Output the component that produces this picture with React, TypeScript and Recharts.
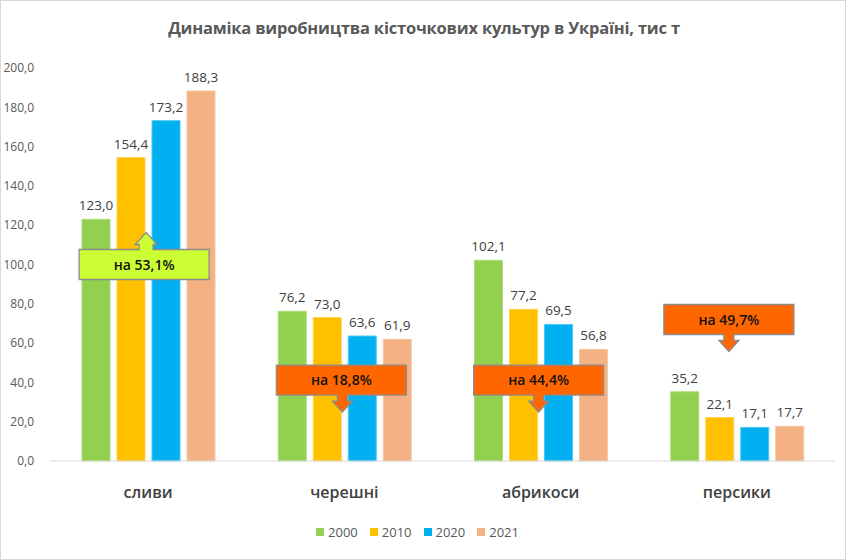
import React from "react";
import { BarChart, Bar, XAxis, YAxis, LabelList, Legend, ReferenceDot } from "recharts";

const categories = ["сливи", "черешні", "абрикоси", "персики"];
const seriesNames = ["2000", "2010", "2020", "2021"];
const v2000 = [123.0, 76.2, 102.1, 35.2];
const v2010 = [154.4, 73.0, 77.2, 22.1];
const v2020 = [173.2, 63.6, 69.5, 17.1];
const v2021 = [188.3, 61.9, 56.8, 17.7];
const yTicks = [0, 20, 40, 60, 80, 100, 120, 140, 160, 180, 200];
const colors = ["#92D050", "#FFC000", "#00B0F0", "#F4B183"];
const strokes = ["#a9dc78", "#ffd24d", "#4dc8f5", "#f7c6a3"];

const annoCats = ["сливи", "черешні", "абрикоси", "персики"];
const annoTexts = ["на 53,1%", "на 18,8%", "на 44,4%", "на 49,7%"];
const annoValues = [100, 41.2, 41.2, 72];
const annoUp = [true, false, false, false];
const annoDx = [-4, -3, -2, -8];
const annoArrowDx = [2, 1, 0, 0];
const annoFill = ["#CCFF33", "#FF6600", "#FF6600", "#FF6600"];

const seriesValues = [v2000, v2010, v2020, v2021];
const data = categories.map((c, i) => {
  const row: any = { name: c };
  seriesNames.forEach((s, k) => (row[s] = seriesValues[k][i]));
  return row;
});

const fmt = (v: number) => v.toFixed(1).replace(".", ",");
const FONT = "'Open Sans', sans-serif";

const Callout = (props: any) => {
  const { cx, cy, idx } = props;
  if (cx == null || cy == null) return null;
  const w = 130, h = 30;
  const c = cx + annoDx[idx];
  const l = c - w / 2, r = c + w / 2, t = cy - h / 2, b = cy + h / 2;
  const ax = c + annoArrowDx[idx];
  let d: string;
  if (annoUp[idx]) {
    d = `M${l},${t} L${ax - 7},${t} L${ax - 7},${t - 5} L${ax - 11},${t - 5} L${ax},${t - 17} L${ax + 11},${t - 5} L${ax + 7},${t - 5} L${ax + 7},${t} L${r},${t} L${r},${b} L${l},${b} Z`;
  } else {
    d = `M${l},${t} L${r},${t} L${r},${b} L${ax + 5},${b} L${ax + 5},${b + 6} L${ax + 10},${b + 6} L${ax},${b + 17} L${ax - 10},${b + 6} L${ax - 5},${b + 6} L${ax - 5},${b} L${l},${b} Z`;
  }
  return (
    <g>
      <path d={d} fill={annoFill[idx]} stroke="#8c8c8c" strokeWidth={1.3} />
      <text x={c} y={cy} dy={5} textAnchor="middle" fontFamily={FONT} fontSize={14} fontWeight={600} fill="#111">
        {annoTexts[idx]}
      </text>
    </g>
  );
};

const CatTick = (props: any) => {
  const { x, y, payload } = props;
  return (
    <text x={x} y={y} dy={29} textAnchor="middle" fontFamily={FONT} fontSize={16} fontWeight={600} fill="#404040">
      {payload.value}
    </text>
  );
};

const LegendContent = () => (
  <div style={{ display: "flex", justifyContent: "center", alignItems: "center", height: 20, fontFamily: FONT, fontSize: 13, color: "#595959" }}>
    {seriesNames.map((s, i) => (
      <div key={s} style={{ display: "flex", alignItems: "center", margin: "0 6px" }}>
        <div style={{ width: 8, height: 8, background: colors[i], marginRight: 4 }} />
        <span>{s}</span>
      </div>
    ))}
  </div>
);

export default function App() {
  return (
    <div style={{ position: "absolute", left: 0, top: 0, width: 846, height: 560, background: "#fff", boxSizing: "border-box", border: "1px solid #d9d9d9" }}>
      <div style={{ position: "absolute", left: 0, top: 15, width: 846, textAlign: "center", fontFamily: FONT, fontSize: 16.5, fontWeight: 700, color: "#595959", letterSpacing: -0.2 }}>
        Динаміка виробництва кісточкових культур в Україні, тис т
      </div>
      <div style={{ position: "absolute", left: -1, top: -1 }}>
        <BarChart width={846} height={560} data={data} margin={{ top: 68, right: 11, bottom: 29, left: 0 }} barSize={28} barGap={7}>
          <XAxis dataKey="name" height={50} axisLine={{ stroke: "#d9d9d9" }} tickLine={false} tick={<CatTick />} interval={0} />
          <YAxis width={50} domain={[0, 200]} ticks={yTicks} tickFormatter={fmt} axisLine={false} tickLine={false}
            tick={{ fontFamily: FONT, fontSize: 12, fill: "#595959" }} tickMargin={10} interval={0} />
          <Legend verticalAlign="bottom" content={<LegendContent />} wrapperStyle={{ bottom: 18 }} />
          {seriesNames.map((s, i) => (
            <Bar key={s} dataKey={s} fill={colors[i]} stroke={strokes[i]} strokeWidth={1} isAnimationActive={false}>
              <LabelList dataKey={s} position="top" offset={9} formatter={(v: any) => fmt(Number(v))}
                style={{ fontFamily: FONT, fontSize: 13.5, fill: "#404040" }} />
            </Bar>
          ))}
          {annoCats.map((c, i) => (
            <ReferenceDot key={i} x={c} y={annoValues[i]} ifOverflow="visible" shape={(p: any) => <Callout {...p} idx={i} />} />
          ))}
        </BarChart>
      </div>
    </div>
  );
}
